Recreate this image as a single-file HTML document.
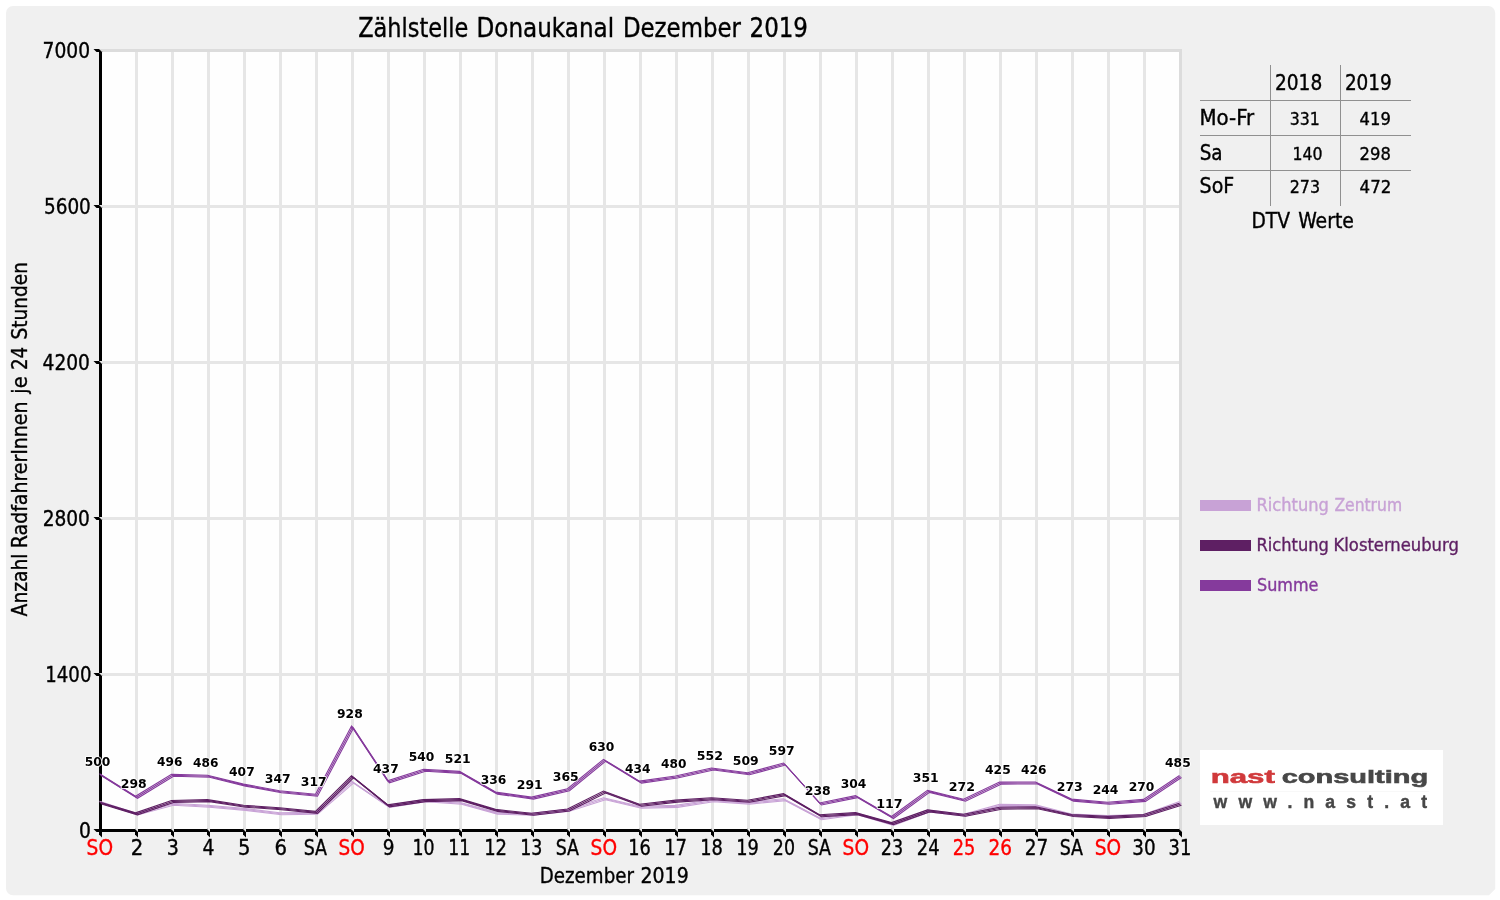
<!DOCTYPE html>
<html lang="de"><head><meta charset="utf-8"><title>Zählstelle Donaukanal Dezember 2019</title>
<style>html,body{margin:0;padding:0;background:#fff;width:1500px;height:900px;overflow:hidden}svg{display:block}.c{font-family:"DejaVu Sans Condensed","DejaVu Sans",sans-serif;font-stretch:condensed}.b{font-family:"DejaVu Sans Condensed","DejaVu Sans",sans-serif;font-stretch:condensed;font-weight:bold}.l{font-family:"Liberation Sans",sans-serif;font-weight:bold}</style></head><body>
<svg width="1500" height="900" viewBox="0 0 1500 900">
<rect x="0" y="0" width="1500" height="900" fill="#ffffff"/>
<path d="M13 6H1488.2A7 7 0 0 1 1495.2 13V889L1489 895.2H13A7 7 0 0 1 6 888.2V13A7 7 0 0 1 13 6Z" fill="#f0f0f0"/>
<rect x="99" y="49" width="1083" height="783" fill="#fefefe"/>
<g fill="#e6e6e6"><rect x="135.0" y="49" width="3" height="781"/><rect x="171.0" y="49" width="3" height="781"/><rect x="207.0" y="49" width="3" height="781"/><rect x="243.0" y="49" width="3" height="781"/><rect x="279.0" y="49" width="3" height="781"/><rect x="315.0" y="49" width="3" height="781"/><rect x="351.0" y="49" width="3" height="781"/><rect x="387.0" y="49" width="3" height="781"/><rect x="423.0" y="49" width="3" height="781"/><rect x="459.0" y="49" width="3" height="781"/><rect x="495.0" y="49" width="3" height="781"/><rect x="531.0" y="49" width="3" height="781"/><rect x="567.0" y="49" width="3" height="781"/><rect x="603.0" y="49" width="3" height="781"/><rect x="639.0" y="49" width="3" height="781"/><rect x="675.0" y="49" width="3" height="781"/><rect x="711.0" y="49" width="3" height="781"/><rect x="747.0" y="49" width="3" height="781"/><rect x="783.0" y="49" width="3" height="781"/><rect x="819.0" y="49" width="3" height="781"/><rect x="855.0" y="49" width="3" height="781"/><rect x="891.0" y="49" width="3" height="781"/><rect x="927.0" y="49" width="3" height="781"/><rect x="963.0" y="49" width="3" height="781"/><rect x="999.0" y="49" width="3" height="781"/><rect x="1035.0" y="49" width="3" height="781"/><rect x="1071.0" y="49" width="3" height="781"/><rect x="1107.0" y="49" width="3" height="781"/><rect x="1143.0" y="49" width="3" height="781"/><rect x="1179.0" y="49" width="3" height="781"/><rect x="99" y="673.0" width="1083" height="3"/><rect x="99" y="517.0" width="1083" height="3"/><rect x="99" y="361.0" width="1083" height="3"/><rect x="99" y="205.0" width="1083" height="3"/></g>
<rect x="99" y="49" width="1083" height="3" fill="#dcdcdc"/>
<rect x="1179" y="49" width="3" height="783" fill="#dcdcdc"/>
<rect x="99" y="49" width="3" height="783" fill="#000"/>
<rect x="99" y="829" width="1083" height="3" fill="#000"/>
<g fill="#000"><path d="M93.5 829.0h6l3 3h-6z"/><path d="M93.5 673.0h6l3 3h-6z"/><path d="M93.5 517.0h6l3 3h-6z"/><path d="M93.5 361.0h6l3 3h-6z"/><path d="M93.5 205.0h6l3 3h-6z"/><path d="M93.5 49.0h6l3 3h-6z"/><path d="M99.0 828.5l3 3v6l-3-3z"/><path d="M135.0 828.5l3 3v6l-3-3z"/><path d="M171.0 828.5l3 3v6l-3-3z"/><path d="M207.0 828.5l3 3v6l-3-3z"/><path d="M243.0 828.5l3 3v6l-3-3z"/><path d="M279.0 828.5l3 3v6l-3-3z"/><path d="M315.0 828.5l3 3v6l-3-3z"/><path d="M351.0 828.5l3 3v6l-3-3z"/><path d="M387.0 828.5l3 3v6l-3-3z"/><path d="M423.0 828.5l3 3v6l-3-3z"/><path d="M459.0 828.5l3 3v6l-3-3z"/><path d="M495.0 828.5l3 3v6l-3-3z"/><path d="M531.0 828.5l3 3v6l-3-3z"/><path d="M567.0 828.5l3 3v6l-3-3z"/><path d="M603.0 828.5l3 3v6l-3-3z"/><path d="M639.0 828.5l3 3v6l-3-3z"/><path d="M675.0 828.5l3 3v6l-3-3z"/><path d="M711.0 828.5l3 3v6l-3-3z"/><path d="M747.0 828.5l3 3v6l-3-3z"/><path d="M783.0 828.5l3 3v6l-3-3z"/><path d="M819.0 828.5l3 3v6l-3-3z"/><path d="M855.0 828.5l3 3v6l-3-3z"/><path d="M891.0 828.5l3 3v6l-3-3z"/><path d="M927.0 828.5l3 3v6l-3-3z"/><path d="M963.0 828.5l3 3v6l-3-3z"/><path d="M999.0 828.5l3 3v6l-3-3z"/><path d="M1035.0 828.5l3 3v6l-3-3z"/><path d="M1071.0 828.5l3 3v6l-3-3z"/><path d="M1107.0 828.5l3 3v6l-3-3z"/><path d="M1143.0 828.5l3 3v6l-3-3z"/><path d="M1179.0 828.5l3 3v6l-3-3z"/></g>
<g fill="#e6e6e6"><path d="M99 673.0h3v3z"/><path d="M99 517.0h3v3z"/><path d="M99 361.0h3v3z"/><path d="M99 205.0h3v3z"/><path d="M135.0 829h3v3z"/><path d="M171.0 829h3v3z"/><path d="M207.0 829h3v3z"/><path d="M243.0 829h3v3z"/><path d="M279.0 829h3v3z"/><path d="M315.0 829h3v3z"/><path d="M351.0 829h3v3z"/><path d="M387.0 829h3v3z"/><path d="M423.0 829h3v3z"/><path d="M459.0 829h3v3z"/><path d="M495.0 829h3v3z"/><path d="M531.0 829h3v3z"/><path d="M567.0 829h3v3z"/><path d="M603.0 829h3v3z"/><path d="M639.0 829h3v3z"/><path d="M675.0 829h3v3z"/><path d="M711.0 829h3v3z"/><path d="M747.0 829h3v3z"/><path d="M783.0 829h3v3z"/><path d="M819.0 829h3v3z"/><path d="M855.0 829h3v3z"/><path d="M891.0 829h3v3z"/><path d="M927.0 829h3v3z"/><path d="M963.0 829h3v3z"/><path d="M999.0 829h3v3z"/><path d="M1035.0 829h3v3z"/><path d="M1071.0 829h3v3z"/><path d="M1107.0 829h3v3z"/><path d="M1143.0 829h3v3z"/></g>
<path d="M99 49h3v3z" fill="#dcdcdc"/><path d="M1179 829h3v3z" fill="#dcdcdc"/>
<g fill="none" stroke="#c8a2d6" stroke-width="1.1" stroke-linejoin="miter" stroke-linecap="butt"><polyline transform="translate(-1,-1)" points="100.5,802.3 136.5,814.0 172.5,804.2 208.5,806.2 244.5,809.4 280.5,813.7 316.5,813.2 352.5,782.1 388.5,806.5 424.5,800.6 460.5,803.3 496.5,813.1 532.5,814.3 568.5,810.3 604.5,798.7 640.5,807.3 676.5,806.4 712.5,800.7 748.5,803.1 784.5,799.7 820.5,818.8 856.5,813.6 892.5,824.4 928.5,811.0 964.5,815.3 1000.5,805.4 1036.5,805.9 1072.5,815.1 1108.5,816.5 1144.5,815.5 1180.5,802.6"/><polyline transform="translate(0,0)" points="100.5,802.3 136.5,814.0 172.5,804.2 208.5,806.2 244.5,809.4 280.5,813.7 316.5,813.2 352.5,782.1 388.5,806.5 424.5,800.6 460.5,803.3 496.5,813.1 532.5,814.3 568.5,810.3 604.5,798.7 640.5,807.3 676.5,806.4 712.5,800.7 748.5,803.1 784.5,799.7 820.5,818.8 856.5,813.6 892.5,824.4 928.5,811.0 964.5,815.3 1000.5,805.4 1036.5,805.9 1072.5,815.1 1108.5,816.5 1144.5,815.5 1180.5,802.6"/><polyline transform="translate(1,1)" points="100.5,802.3 136.5,814.0 172.5,804.2 208.5,806.2 244.5,809.4 280.5,813.7 316.5,813.2 352.5,782.1 388.5,806.5 424.5,800.6 460.5,803.3 496.5,813.1 532.5,814.3 568.5,810.3 604.5,798.7 640.5,807.3 676.5,806.4 712.5,800.7 748.5,803.1 784.5,799.7 820.5,818.8 856.5,813.6 892.5,824.4 928.5,811.0 964.5,815.3 1000.5,805.4 1036.5,805.9 1072.5,815.1 1108.5,816.5 1144.5,815.5 1180.5,802.6"/></g>
<g fill="none" stroke="#5e1f63" stroke-width="1.1" stroke-linejoin="miter" stroke-linecap="butt"><polyline transform="translate(-1,-1)" points="100.5,803.0 136.5,813.8 172.5,801.5 208.5,800.6 244.5,806.2 280.5,808.7 316.5,812.4 352.5,776.8 388.5,805.8 424.5,800.6 460.5,799.6 496.5,810.4 532.5,814.2 568.5,810.0 604.5,792.1 640.5,805.3 676.5,801.1 712.5,798.7 748.5,801.2 784.5,794.7 820.5,815.7 856.5,813.6 892.5,823.6 928.5,810.9 964.5,815.3 1000.5,808.2 1036.5,807.7 1072.5,815.5 1108.5,817.4 1144.5,815.5 1180.5,804.3"/><polyline transform="translate(0,0)" points="100.5,803.0 136.5,813.8 172.5,801.5 208.5,800.6 244.5,806.2 280.5,808.7 316.5,812.4 352.5,776.8 388.5,805.8 424.5,800.6 460.5,799.6 496.5,810.4 532.5,814.2 568.5,810.0 604.5,792.1 640.5,805.3 676.5,801.1 712.5,798.7 748.5,801.2 784.5,794.7 820.5,815.7 856.5,813.6 892.5,823.6 928.5,810.9 964.5,815.3 1000.5,808.2 1036.5,807.7 1072.5,815.5 1108.5,817.4 1144.5,815.5 1180.5,804.3"/><polyline transform="translate(1,1)" points="100.5,803.0 136.5,813.8 172.5,801.5 208.5,800.6 244.5,806.2 280.5,808.7 316.5,812.4 352.5,776.8 388.5,805.8 424.5,800.6 460.5,799.6 496.5,810.4 532.5,814.2 568.5,810.0 604.5,792.1 640.5,805.3 676.5,801.1 712.5,798.7 748.5,801.2 784.5,794.7 820.5,815.7 856.5,813.6 892.5,823.6 928.5,810.9 964.5,815.3 1000.5,808.2 1036.5,807.7 1072.5,815.5 1108.5,817.4 1144.5,815.5 1180.5,804.3"/></g>
<g fill="none" stroke="#853a9c" stroke-width="1.1" stroke-linejoin="miter" stroke-linecap="butt"><polyline transform="translate(-1,-1)" points="100.5,774.8 136.5,797.3 172.5,775.2 208.5,776.3 244.5,785.1 280.5,791.8 316.5,795.2 352.5,727.1 388.5,781.8 424.5,770.3 460.5,772.4 496.5,793.1 532.5,798.1 568.5,789.8 604.5,760.3 640.5,782.1 676.5,777.0 712.5,769.0 748.5,773.8 784.5,764.0 820.5,804.0 856.5,796.6 892.5,817.5 928.5,791.4 964.5,800.2 1000.5,783.1 1036.5,783.0 1072.5,800.1 1108.5,803.3 1144.5,800.4 1180.5,776.5"/><polyline transform="translate(0,0)" points="100.5,774.8 136.5,797.3 172.5,775.2 208.5,776.3 244.5,785.1 280.5,791.8 316.5,795.2 352.5,727.1 388.5,781.8 424.5,770.3 460.5,772.4 496.5,793.1 532.5,798.1 568.5,789.8 604.5,760.3 640.5,782.1 676.5,777.0 712.5,769.0 748.5,773.8 784.5,764.0 820.5,804.0 856.5,796.6 892.5,817.5 928.5,791.4 964.5,800.2 1000.5,783.1 1036.5,783.0 1072.5,800.1 1108.5,803.3 1144.5,800.4 1180.5,776.5"/><polyline transform="translate(1,1)" points="100.5,774.8 136.5,797.3 172.5,775.2 208.5,776.3 244.5,785.1 280.5,791.8 316.5,795.2 352.5,727.1 388.5,781.8 424.5,770.3 460.5,772.4 496.5,793.1 532.5,798.1 568.5,789.8 604.5,760.3 640.5,782.1 676.5,777.0 712.5,769.0 748.5,773.8 784.5,764.0 820.5,804.0 856.5,796.6 892.5,817.5 928.5,791.4 964.5,800.2 1000.5,783.1 1036.5,783.0 1072.5,800.1 1108.5,803.3 1144.5,800.4 1180.5,776.5"/></g>
<g stroke="#ffffff" stroke-width="1.7" stroke-linejoin="round" paint-order="stroke" fill="#000"><text class="b" font-size="12.8" x="84.75" y="766.00" textLength="25.69" lengthAdjust="spacingAndGlyphs">500</text><text class="b" font-size="12.8" x="120.74" y="788.00" textLength="25.97" lengthAdjust="spacingAndGlyphs">298</text><text class="b" font-size="12.8" x="157.02" y="766.00" textLength="25.41" lengthAdjust="spacingAndGlyphs">496</text><text class="b" font-size="12.8" x="193.02" y="767.00" textLength="25.41" lengthAdjust="spacingAndGlyphs">486</text><text class="b" font-size="12.8" x="229.02" y="776.00" textLength="25.69" lengthAdjust="spacingAndGlyphs">407</text><text class="b" font-size="12.8" x="264.74" y="783.00" textLength="25.97" lengthAdjust="spacingAndGlyphs">347</text><text class="b" font-size="12.8" x="300.74" y="786.00" textLength="25.97" lengthAdjust="spacingAndGlyphs">317</text><text class="b" font-size="12.8" x="337.02" y="718.00" textLength="25.69" lengthAdjust="spacingAndGlyphs">928</text><text class="b" font-size="12.8" x="373.02" y="773.00" textLength="25.69" lengthAdjust="spacingAndGlyphs">437</text><text class="b" font-size="12.8" x="408.75" y="761.00" textLength="25.69" lengthAdjust="spacingAndGlyphs">540</text><text class="b" font-size="12.8" x="444.74" y="763.00" textLength="25.97" lengthAdjust="spacingAndGlyphs">521</text><text class="b" font-size="12.8" x="480.75" y="784.00" textLength="25.69" lengthAdjust="spacingAndGlyphs">336</text><text class="b" font-size="12.8" x="516.74" y="789.00" textLength="25.97" lengthAdjust="spacingAndGlyphs">291</text><text class="b" font-size="12.8" x="552.74" y="781.00" textLength="25.97" lengthAdjust="spacingAndGlyphs">365</text><text class="b" font-size="12.8" x="588.75" y="751.00" textLength="25.69" lengthAdjust="spacingAndGlyphs">630</text><text class="b" font-size="12.8" x="625.02" y="773.00" textLength="25.41" lengthAdjust="spacingAndGlyphs">434</text><text class="b" font-size="12.8" x="661.02" y="768.00" textLength="25.41" lengthAdjust="spacingAndGlyphs">480</text><text class="b" font-size="12.8" x="696.73" y="760.00" textLength="26.26" lengthAdjust="spacingAndGlyphs">552</text><text class="b" font-size="12.8" x="732.74" y="765.00" textLength="25.97" lengthAdjust="spacingAndGlyphs">509</text><text class="b" font-size="12.8" x="768.74" y="755.00" textLength="25.97" lengthAdjust="spacingAndGlyphs">597</text><text class="b" font-size="12.8" x="804.74" y="795.00" textLength="25.97" lengthAdjust="spacingAndGlyphs">238</text><text class="b" font-size="12.8" x="840.75" y="788.00" textLength="25.69" lengthAdjust="spacingAndGlyphs">304</text><text class="b" font-size="12.8" x="876.17" y="808.00" textLength="26.56" lengthAdjust="spacingAndGlyphs">117</text><text class="b" font-size="12.8" x="912.74" y="782.00" textLength="25.97" lengthAdjust="spacingAndGlyphs">351</text><text class="b" font-size="12.8" x="948.73" y="791.00" textLength="26.26" lengthAdjust="spacingAndGlyphs">272</text><text class="b" font-size="12.8" x="985.02" y="774.00" textLength="25.69" lengthAdjust="spacingAndGlyphs">425</text><text class="b" font-size="12.8" x="1021.02" y="774.00" textLength="25.41" lengthAdjust="spacingAndGlyphs">426</text><text class="b" font-size="12.8" x="1056.74" y="791.00" textLength="25.97" lengthAdjust="spacingAndGlyphs">273</text><text class="b" font-size="12.8" x="1092.75" y="794.00" textLength="25.69" lengthAdjust="spacingAndGlyphs">244</text><text class="b" font-size="12.8" x="1128.75" y="791.00" textLength="25.69" lengthAdjust="spacingAndGlyphs">270</text><text class="b" font-size="12.8" x="1165.02" y="767.00" textLength="25.69" lengthAdjust="spacingAndGlyphs">485</text></g>
<g><text class="c" font-size="21.0" fill="#000" x="42.57" y="58.00" textLength="47.50" lengthAdjust="spacingAndGlyphs" stroke="#000" stroke-width="0.35">7000</text><text class="c" font-size="21.0" fill="#000" x="43.98" y="214.00" textLength="46.87" lengthAdjust="spacingAndGlyphs" stroke="#000" stroke-width="0.35">5600</text><text class="c" font-size="21.0" fill="#000" x="42.56" y="370.00" textLength="47.40" lengthAdjust="spacingAndGlyphs" stroke="#000" stroke-width="0.35">4200</text><text class="c" font-size="21.0" fill="#000" x="42.67" y="526.00" textLength="47.29" lengthAdjust="spacingAndGlyphs" stroke="#000" stroke-width="0.35">2800</text><text class="c" font-size="21.0" fill="#000" x="45.32" y="682.00" textLength="46.11" lengthAdjust="spacingAndGlyphs" stroke="#000" stroke-width="0.35">1400</text><text class="c" font-size="21.0" fill="#000" x="78.91" y="838.00" textLength="11.91" lengthAdjust="spacingAndGlyphs" stroke="#000" stroke-width="0.35">0</text></g>
<g><text class="c" font-size="21.0" fill="#ff0000" x="86.62" y="854.80" textLength="26.44" lengthAdjust="spacingAndGlyphs" stroke="#ff0000" stroke-width="0.35">SO</text><text class="c" font-size="21.0" fill="#000" x="130.70" y="854.80" textLength="12.49" lengthAdjust="spacingAndGlyphs" stroke="#000" stroke-width="0.35">2</text><text class="c" font-size="21.0" fill="#000" x="166.74" y="854.80" textLength="12.16" lengthAdjust="spacingAndGlyphs" stroke="#000" stroke-width="0.35">3</text><text class="c" font-size="21.0" fill="#000" x="202.46" y="854.80" textLength="11.92" lengthAdjust="spacingAndGlyphs" stroke="#000" stroke-width="0.35">4</text><text class="c" font-size="21.0" fill="#000" x="237.90" y="854.80" textLength="12.49" lengthAdjust="spacingAndGlyphs" stroke="#000" stroke-width="0.35">5</text><text class="c" font-size="21.0" fill="#000" x="274.56" y="854.80" textLength="12.51" lengthAdjust="spacingAndGlyphs" stroke="#000" stroke-width="0.35">6</text><text class="c" font-size="21.0" fill="#000" x="303.68" y="854.80" textLength="23.35" lengthAdjust="spacingAndGlyphs" stroke="#000" stroke-width="0.35">SA</text><text class="c" font-size="21.0" fill="#ff0000" x="338.62" y="854.80" textLength="26.23" lengthAdjust="spacingAndGlyphs" stroke="#ff0000" stroke-width="0.35">SO</text><text class="c" font-size="21.0" fill="#000" x="382.82" y="854.80" textLength="11.79" lengthAdjust="spacingAndGlyphs" stroke="#000" stroke-width="0.35">9</text><text class="c" font-size="21.0" fill="#000" x="412.49" y="854.80" textLength="22.07" lengthAdjust="spacingAndGlyphs" stroke="#000" stroke-width="0.35">10</text><text class="c" font-size="21.0" fill="#000" x="448.20" y="854.80" textLength="22.02" lengthAdjust="spacingAndGlyphs" stroke="#000" stroke-width="0.35">11</text><text class="c" font-size="21.0" fill="#000" x="484.13" y="854.80" textLength="22.95" lengthAdjust="spacingAndGlyphs" stroke="#000" stroke-width="0.35">12</text><text class="c" font-size="21.0" fill="#000" x="520.18" y="854.80" textLength="22.21" lengthAdjust="spacingAndGlyphs" stroke="#000" stroke-width="0.35">13</text><text class="c" font-size="21.0" fill="#000" x="555.68" y="854.80" textLength="23.35" lengthAdjust="spacingAndGlyphs" stroke="#000" stroke-width="0.35">SA</text><text class="c" font-size="21.0" fill="#ff0000" x="590.62" y="854.80" textLength="26.44" lengthAdjust="spacingAndGlyphs" stroke="#ff0000" stroke-width="0.35">SO</text><text class="c" font-size="21.0" fill="#000" x="628.15" y="854.80" textLength="22.63" lengthAdjust="spacingAndGlyphs" stroke="#000" stroke-width="0.35">16</text><text class="c" font-size="21.0" fill="#000" x="664.13" y="854.80" textLength="22.90" lengthAdjust="spacingAndGlyphs" stroke="#000" stroke-width="0.35">17</text><text class="c" font-size="21.0" fill="#000" x="700.15" y="854.80" textLength="22.63" lengthAdjust="spacingAndGlyphs" stroke="#000" stroke-width="0.35">18</text><text class="c" font-size="21.0" fill="#000" x="736.15" y="854.80" textLength="22.63" lengthAdjust="spacingAndGlyphs" stroke="#000" stroke-width="0.35">19</text><text class="c" font-size="21.0" fill="#000" x="772.85" y="854.80" textLength="22.11" lengthAdjust="spacingAndGlyphs" stroke="#000" stroke-width="0.35">20</text><text class="c" font-size="21.0" fill="#000" x="807.68" y="854.80" textLength="23.35" lengthAdjust="spacingAndGlyphs" stroke="#000" stroke-width="0.35">SA</text><text class="c" font-size="21.0" fill="#ff0000" x="842.62" y="854.80" textLength="26.44" lengthAdjust="spacingAndGlyphs" stroke="#ff0000" stroke-width="0.35">SO</text><text class="c" font-size="21.0" fill="#000" x="880.84" y="854.80" textLength="22.37" lengthAdjust="spacingAndGlyphs" stroke="#000" stroke-width="0.35">23</text><text class="c" font-size="21.0" fill="#000" x="916.82" y="854.80" textLength="22.74" lengthAdjust="spacingAndGlyphs" stroke="#000" stroke-width="0.35">24</text><text class="c" font-size="21.0" fill="#ff0000" x="952.82" y="854.80" textLength="22.63" lengthAdjust="spacingAndGlyphs" stroke="#ff0000" stroke-width="0.35">25</text><text class="c" font-size="21.0" fill="#ff0000" x="988.48" y="854.80" textLength="23.44" lengthAdjust="spacingAndGlyphs" stroke="#ff0000" stroke-width="0.35">26</text><text class="c" font-size="21.0" fill="#000" x="1024.78" y="854.80" textLength="23.49" lengthAdjust="spacingAndGlyphs" stroke="#000" stroke-width="0.35">27</text><text class="c" font-size="21.0" fill="#000" x="1059.68" y="854.80" textLength="23.35" lengthAdjust="spacingAndGlyphs" stroke="#000" stroke-width="0.35">SA</text><text class="c" font-size="21.0" fill="#ff0000" x="1094.82" y="854.80" textLength="26.34" lengthAdjust="spacingAndGlyphs" stroke="#ff0000" stroke-width="0.35">SO</text><text class="c" font-size="21.0" fill="#000" x="1132.29" y="854.80" textLength="23.33" lengthAdjust="spacingAndGlyphs" stroke="#000" stroke-width="0.35">30</text><text class="c" font-size="21.0" fill="#000" x="1168.52" y="854.80" textLength="22.75" lengthAdjust="spacingAndGlyphs" stroke="#000" stroke-width="0.35">31</text></g>
<g><text class="c" font-size="26.0" fill="#000" x="358.18" y="37.00" textLength="110.17" lengthAdjust="spacingAndGlyphs" stroke="#000" stroke-width="0.35">Zählstelle</text> <text class="c" font-size="26.0" fill="#000" x="476.53" y="37.00" textLength="137.66" lengthAdjust="spacingAndGlyphs" stroke="#000" stroke-width="0.35">Donaukanal</text> <text class="c" font-size="26.0" fill="#000" x="622.95" y="37.00" textLength="117.89" lengthAdjust="spacingAndGlyphs" stroke="#000" stroke-width="0.35">Dezember</text> <text class="c" font-size="26.0" fill="#000" x="749.53" y="37.00" textLength="58.46" lengthAdjust="spacingAndGlyphs" stroke="#000" stroke-width="0.35">2019</text></g>
<g><text class="c" font-size="21.0" fill="#000" x="539.75" y="882.60" textLength="94.22" lengthAdjust="spacingAndGlyphs" stroke="#000" stroke-width="0.35">Dezember</text> <text class="c" font-size="21.0" fill="#000" x="640.55" y="882.60" textLength="48.13" lengthAdjust="spacingAndGlyphs" stroke="#000" stroke-width="0.35">2019</text></g>
<g><text class="c" font-size="21.0" fill="#000" transform="translate(27.00 0) rotate(-90)" x="-616.40" y="0" textLength="62.91" lengthAdjust="spacingAndGlyphs" stroke="#000" stroke-width="0.35">Anzahl</text> <text class="c" font-size="21.0" fill="#000" transform="translate(27.00 0) rotate(-90)" x="-548.20" y="0" textLength="146.73" lengthAdjust="spacingAndGlyphs" stroke="#000" stroke-width="0.35">RadfahrerInnen</text> <text class="c" font-size="21.0" fill="#000" transform="translate(27.00 0) rotate(-90)" x="-393.69" y="0" textLength="17.30" lengthAdjust="spacingAndGlyphs" stroke="#000" stroke-width="0.35">je</text> <text class="c" font-size="21.0" fill="#000" transform="translate(27.00 0) rotate(-90)" x="-370.11" y="0" textLength="23.28" lengthAdjust="spacingAndGlyphs" stroke="#000" stroke-width="0.35">24</text> <text class="c" font-size="21.0" fill="#000" transform="translate(27.00 0) rotate(-90)" x="-339.58" y="0" textLength="77.52" lengthAdjust="spacingAndGlyphs" stroke="#000" stroke-width="0.35">Stunden</text></g>
<path d="M1270.5 65V206M1340.5 65V206M1200 100.5H1411M1200 135.5H1411M1200 170.5H1411" fill="none" stroke="#909090" stroke-width="1"/>
<g><text class="c" font-size="21.0" fill="#000" x="1274.97" y="90.00" textLength="47.29" lengthAdjust="spacingAndGlyphs" stroke="#000" stroke-width="0.35">2018</text><text class="c" font-size="21.0" fill="#000" x="1344.88" y="90.00" textLength="46.97" lengthAdjust="spacingAndGlyphs" stroke="#000" stroke-width="0.35">2019</text><text class="c" font-size="21.0" fill="#000" x="1199.53" y="125.00" textLength="54.63" lengthAdjust="spacingAndGlyphs" stroke="#000" stroke-width="0.35">Mo-Fr</text><text class="c" font-size="18.35" fill="#000" x="1289.75" y="125.10" textLength="30.05" lengthAdjust="spacingAndGlyphs" stroke="#000" stroke-width="0.35">331</text><text class="c" font-size="18.35" fill="#000" x="1359.61" y="125.10" textLength="31.18" lengthAdjust="spacingAndGlyphs" stroke="#000" stroke-width="0.35">419</text><text class="c" font-size="21.0" fill="#000" x="1199.63" y="159.90" textLength="22.90" lengthAdjust="spacingAndGlyphs" stroke="#000" stroke-width="0.35">Sa</text><text class="c" font-size="18.35" fill="#000" x="1292.47" y="159.90" textLength="30.05" lengthAdjust="spacingAndGlyphs" stroke="#000" stroke-width="0.35">140</text><text class="c" font-size="18.35" fill="#000" x="1359.61" y="159.90" textLength="31.18" lengthAdjust="spacingAndGlyphs" stroke="#000" stroke-width="0.35">298</text><text class="c" font-size="21.0" fill="#000" x="1199.59" y="192.70" textLength="34.65" lengthAdjust="spacingAndGlyphs" stroke="#000" stroke-width="0.35">SoF</text><text class="c" font-size="18.35" fill="#000" x="1289.74" y="192.70" textLength="30.33" lengthAdjust="spacingAndGlyphs" stroke="#000" stroke-width="0.35">273</text><text class="c" font-size="18.35" fill="#000" x="1359.60" y="192.70" textLength="31.71" lengthAdjust="spacingAndGlyphs" stroke="#000" stroke-width="0.35">472</text><g><text class="c" font-size="21.0" fill="#000" x="1251.42" y="227.90" textLength="38.60" lengthAdjust="spacingAndGlyphs" stroke="#000" stroke-width="0.35">DTV</text> <text class="c" font-size="21.0" fill="#000" x="1298.15" y="227.90" textLength="55.72" lengthAdjust="spacingAndGlyphs" stroke="#000" stroke-width="0.35">Werte</text></g></g>
<rect x="1200" y="500.0" width="51" height="11" fill="#c8a2d6"/><g><text class="c" font-size="17.4" fill="#c8a2d6" x="1256.50" y="511.00" textLength="72.28" lengthAdjust="spacingAndGlyphs" stroke="#c8a2d6" stroke-width="0.35">Richtung</text> <text class="c" font-size="17.4" fill="#c8a2d6" x="1334.40" y="511.00" textLength="67.68" lengthAdjust="spacingAndGlyphs" stroke="#c8a2d6" stroke-width="0.35">Zentrum</text></g>
<rect x="1200" y="540.0" width="51" height="11" fill="#5e1f63"/><g><text class="c" font-size="17.4" fill="#5e1f63" x="1256.50" y="551.00" textLength="72.28" lengthAdjust="spacingAndGlyphs" stroke="#5e1f63" stroke-width="0.35">Richtung</text> <text class="c" font-size="17.4" fill="#5e1f63" x="1333.59" y="551.00" textLength="125.25" lengthAdjust="spacingAndGlyphs" stroke="#5e1f63" stroke-width="0.35">Klosterneuburg</text></g>
<rect x="1200" y="580.0" width="51" height="11" fill="#853a9c"/><g><text class="c" font-size="17.4" fill="#853a9c" x="1257.03" y="591.00" textLength="61.40" lengthAdjust="spacingAndGlyphs" stroke="#853a9c" stroke-width="0.35">Summe</text></g>
<rect x="1200" y="750" width="243" height="75" fill="#ffffff"/>
<text class="l" font-size="19" fill="#d0393b" x="1210.65" y="783.30" textLength="64.18" lengthAdjust="spacingAndGlyphs" stroke="#d0393b" stroke-width="0.6">nast</text>
<text class="l" font-size="19" fill="#474747" x="1281.66" y="783.30" textLength="146.44" lengthAdjust="spacingAndGlyphs" stroke="#474747" stroke-width="0.6">consulting</text>
<path d="M1210 791.5H1429" stroke="#f8f8f8" stroke-width="1" fill="none"/>
<text class="l" x="1213.6" y="807.6" font-size="17.6" fill="#474747" stroke="#474747" stroke-width="0.4" textLength="213.4" lengthAdjust="spacing">www.nast.at</text>
</svg></body></html>
